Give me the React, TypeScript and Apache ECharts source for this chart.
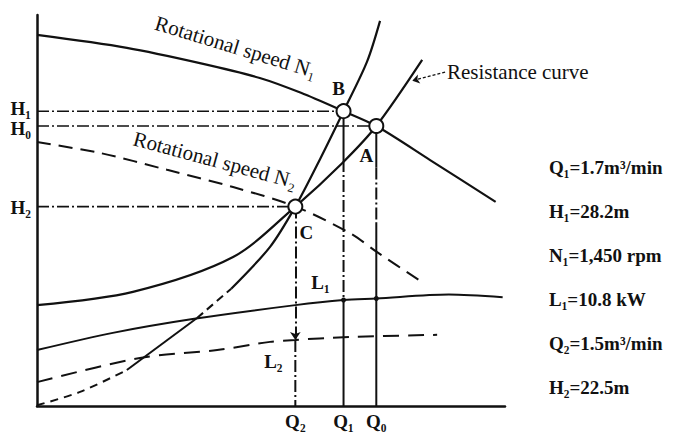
import React, { useEffect, useRef } from 'react';
import * as echarts from 'echarts';

// ---- data (schematic units: flow 0..100, head 0..100) ----
const flowLabels = ['Q₂', 'Q₁', 'Q₀'];
const flowValues = [55.2, 65.5, 72.5];
const headLabels = ['H₁', 'H₀', 'H₂'];
const headValues = [75.4, 71.6, 51];
const pointNames = ['B', 'A', 'C'];
const pointFlow = [65.5, 72.5, 55.2];
const pointHead = [75.4, 71.6, 51];

const headN1 = [[0, 94.9], [19.2, 91.6], [34.8, 87.7], [47.6, 83.9], [56.4, 80.1], [65.5, 75.4], [72.5, 71.6], [84, 62.9], [98, 52.2]];
const headN2 = [[0, 67.5], [13.5, 64.7], [27.8, 60.4], [41.9, 56], [55.2, 51], [66.9, 44.2], [72.6, 39.4], [82.5, 31.5]];
const similarityCurve = [[0, 0.2], [9.2, 3.6], [19.2, 9.2], [34.2, 22.5], [41.5, 30], [49.8, 40.7], [55.2, 51], [60.5, 63.2], [65.5, 75.4], [70.5, 88.0], [73.3, 98.5]];
const resistanceCurve = [[0, 25.8], [20.5, 29.2], [41.9, 38.1], [55.2, 51], [65.2, 62.1], [72.5, 71.6], [82.3, 88.5]];
const powerL1 = [[0, 14.3], [16.2, 18.7], [33.6, 22.3], [55.2, 25.8], [65.5, 27.1], [72.5, 27.5], [88, 28.5], [99.5, 27.8]];
const powerL2 = [[0, 6.1], [22, 12.3], [38.5, 14.3], [49.8, 16.4], [55.2, 16.9], [65.5, 17.6], [85.5, 18.2]];
const specs = ['Q₁=1.7m³/min', 'H₁=28.2m', 'N₁=1,450 rpm', 'L₁=10.8 kW', 'Q₂=1.5m³/min', 'H₂=22.5m'];
const curveNames = ['Rotational speed N₁', 'Rotational speed N₂', 'Resistance curve'];

const INK = '#111';
const FONT = '"Liberation Serif", "DejaVu Serif", serif';
const DASH_DOT: number[] = [12, 3, 2, 3];

function line(data: number[][], type: any, width = 2, smooth: number | boolean = 0.3, z = 3) {
  return {
    type: 'line',
    data,
    symbol: 'none',
    smooth,
    silent: true,
    z,
    lineStyle: { color: INK, width, type },
  };
}

export default function App() {
  const ref = useRef<HTMLDivElement>(null);
  useEffect(() => {
    document.body.style.margin = '0';
    const chart = echarts.init(ref.current!, null, { renderer: 'svg' });
    const L1at = (q: number) => powerL1.find((p) => p[0] === q)![1];
    const L2at = (q: number) => powerL2.find((p) => p[0] === q)![1];
    const [q2, q1, q0] = flowValues;
    const labelFont = { color: INK, fontFamily: FONT, fontSize: 19, fontWeight: 'bold' as const, opacity: 1 };

    const series: any[] = [
      line(headN1, 'solid', 2.2),
      line(headN2, [14, 8], 2),
      line(similarityCurve.slice(0, 3), [8, 6], 2),
      line(similarityCurve.slice(2, 4), 'solid', 2),
      line(similarityCurve.slice(3, 5), [8, 5], 2),
      line(similarityCurve.slice(4), 'solid', 2.2),
      line(resistanceCurve, 'solid', 2.2),
      line(powerL1, 'solid', 2),
      line(powerL2, [16, 9], 2),
      // head reference lines
      ...headValues.map((h, i) =>
        line([[0, h], [pointFlow[i], h]], DASH_DOT, 1.6, false, 2)
      ),
      // Q1 vertical
      line([[q1, pointHead[0]], [q1, 62.9]], 'solid', 2, false),
      line([[q1, 62.9], [q1, L1at(q1)]], DASH_DOT, 2, false),
      line([[q1, L1at(q1)], [q1, 0]], 'solid', 2, false),
      // Q0 vertical
      line([[q0, pointHead[1]], [q0, 61]], 'solid', 2, false),
      line([[q0, 61], [q0, 47]], DASH_DOT, 2, false),
      line([[q0, 47], [q0, 0]], 'solid', 2, false),
      // Q2 vertical
      {
        ...line([[q2, L2at(q2)], [q2, 0]], DASH_DOT, 2, false),
        markLine: {
          silent: true,
          symbol: ['none', 'arrow'],
          symbolSize: 8,
          label: { show: false },
          itemStyle: { color: INK },
          lineStyle: { color: INK, width: 2, type: DASH_DOT, opacity: 1 },
          data: [[{ coord: [q2, pointHead[2]] }, { coord: [q2, L2at(q2)] }]],
        },
      },
      // arrow for resistance curve label
      {
        type: 'line',
        data: [],
        markLine: {
          silent: true,
          symbol: ['none', 'arrow'],
          symbolSize: 7,
          label: { show: false },
          itemStyle: { color: INK },
          lineStyle: { color: INK, width: 1.2, type: [3, 2], opacity: 1 },
          data: [[{ coord: [87.2, 85.4] }, { coord: [80.2, 83.2] }]],
        },
      },
      // operating points
      {
        type: 'scatter',
        z: 10,
        silent: true,
        symbol: 'circle',
        symbolSize: 14,
        itemStyle: { color: '#fff', borderColor: INK, borderWidth: 2, opacity: 1 },
        data: pointNames.map((n, i) => ({
          value: [pointFlow[i], pointHead[i]],
          label: {
            show: true,
            formatter: n,
            position: 'inside',
            offset: [[-5, -23], [-10, 29], [11, 26]][i],
            ...labelFont,
          },
        })),
      },
      // power dots and labels
      {
        type: 'scatter',
        z: 9,
        silent: true,
        symbolSize: 5,
        itemStyle: { color: INK, opacity: 1 },
        data: [
          {
            value: [q1, L1at(q1)],
            label: { show: true, formatter: 'L₁', position: 'inside', offset: [-23, -18], ...labelFont },
          },
          { value: [q0, L1at(q0)] },
          {
            value: [q2, L2at(q2)],
            symbolSize: 0,
            label: { show: true, formatter: 'L₂', position: 'inside', offset: [-22, 22], ...labelFont },
          },
        ],
      },
      // axis letters
      {
        type: 'scatter',
        silent: true,
        symbolSize: 0,
        itemStyle: { opacity: 1 },
        data: [
          ...headLabels.map((t, i) => ({
            value: [0, headValues[i]],
            label: { show: true, formatter: t, position: 'left', distance: 6, offset: [0, [-3, 2, 1][i]] },
          })),
          ...flowLabels.map((t, i) => ({
            value: [flowValues[i], 0],
            label: { show: true, formatter: t, position: 'bottom', distance: 6 },
          })),
        ],
        label: labelFont,
      },
    ];

    chart.setOption({
      animation: false,
      backgroundColor: '#fff',
      textStyle: { fontFamily: FONT },
      grid: { left: 37, right: 171, top: 15, bottom: 32 },
      xAxis: {
        type: 'value', min: 0, max: 100,
        axisLine: { show: true, lineStyle: { color: INK, width: 2.5 } },
        axisTick: { show: false }, axisLabel: { show: false }, splitLine: { show: false },
      },
      yAxis: {
        type: 'value', min: 0, max: 100,
        axisLine: { show: true, lineStyle: { color: INK, width: 2.5 } },
        axisTick: { show: false }, axisLabel: { show: false }, splitLine: { show: false },
      },
      series,
      graphic: [
        {
          type: 'text', x: 236, y: 47, rotation: (-17 * Math.PI) / 180,
          style: { text: curveNames[0], font: `21px ${FONT}`, fill: INK, align: 'center', verticalAlign: 'middle' },
        },
        {
          type: 'text', x: 215, y: 160, rotation: (-15 * Math.PI) / 180,
          style: { text: curveNames[1], font: `21px ${FONT}`, fill: INK, align: 'center', verticalAlign: 'middle' },
        },
        {
          type: 'text', x: 447, y: 72,
          style: { text: curveNames[2], font: `21px ${FONT}`, fill: INK, align: 'left', verticalAlign: 'middle' },
        },
        ...specs.map((s, i) => ({
          type: 'text', x: 549, y: 167 + i * 44,
          style: { text: s, font: `bold 19px ${FONT}`, fill: INK, align: 'left', verticalAlign: 'middle' },
        })),
      ],
    });
    return () => chart.dispose();
  }, []);
  return <div ref={ref} style={{ width: 676, height: 438 }} />;
}
